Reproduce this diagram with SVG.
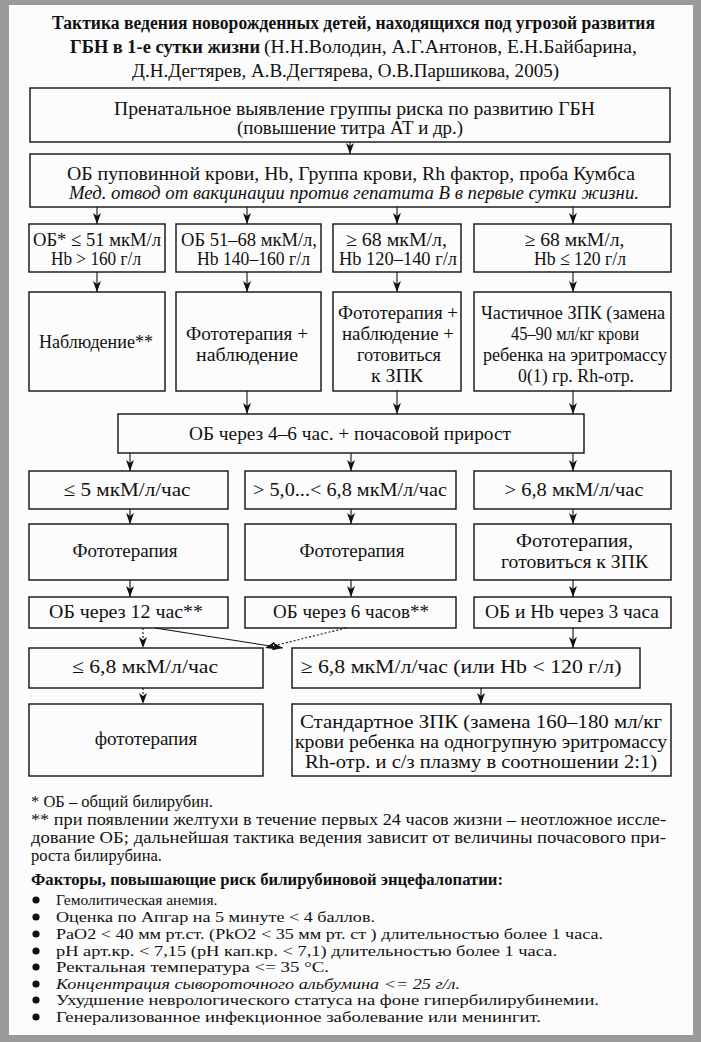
<svg xmlns="http://www.w3.org/2000/svg" width="701" height="1042" viewBox="0 0 701 1042">
<defs>
<marker id="ah" markerUnits="userSpaceOnUse" markerWidth="11" markerHeight="8" refX="11" refY="4" orient="auto">
<path d="M0,0 L11,4 L0,8 L3,4 z" fill="#111"/>
</marker>
<style>
.bx{fill:none;stroke:#111;stroke-width:1.4}
.t{font-family:"Liberation Serif","Times New Roman",serif;font-size:19px;fill:#111;text-anchor:middle}
.tb{font-family:"Liberation Serif","Times New Roman",serif;font-size:18px;font-weight:bold;fill:#111}
.f{font-family:"Liberation Serif","Times New Roman",serif;font-size:16.5px;fill:#111}
.g{font-family:"Liberation Serif","Times New Roman",serif;font-size:15.5px;fill:#111}
.i{font-style:italic}
.c{fill:none;stroke:#111;stroke-width:1.1;marker-end:url(#ah)}
.d{stroke-dasharray:2,2}
</style>
</defs>
<rect x="0" y="0" width="701" height="1042" fill="#9a9a9a"/>
<rect x="9" y="5" width="684" height="1030" fill="#fcfcfc"/>

<g id="title">
<text class="tb" x="353.5" y="29" text-anchor="middle" textLength="603" lengthAdjust="spacingAndGlyphs">Тактика ведения новорожденных детей, находящихся под угрозой развития</text>
<text class="tb" x="70" y="53" textLength="190" lengthAdjust="spacingAndGlyphs">ГБН в 1-е сутки жизни</text>
<text class="t" x="264" y="53" style="text-anchor:start" textLength="373" lengthAdjust="spacingAndGlyphs">(Н.Н.Володин, А.Г.Антонов, Е.Н.Байбарина,</text>
<text class="t" x="345.5" y="77" textLength="427" lengthAdjust="spacingAndGlyphs">Д.Н.Дегтярев, А.В.Дегтярева, О.В.Паршикова, 2005)</text>
</g>

<g id="n1">
<rect class="bx" x="30" y="88" width="640" height="54"/>
<text class="t" x="354.5" y="115" textLength="481" lengthAdjust="spacingAndGlyphs">Пренатальное выявление группы риска по развитию ГБН</text>
<text class="t" x="350" y="134" textLength="226" lengthAdjust="spacingAndGlyphs">(повышение титра АТ и др.)</text>
</g>

<g id="n2">
<rect class="bx" x="30" y="154" width="640" height="53"/>
<text class="t" x="351" y="180" textLength="568" lengthAdjust="spacingAndGlyphs">ОБ пуповинной крови, Hb, Группа крови, Rh фактор, проба Кумбса</text>
<text class="t i" x="354" y="199" textLength="570" lengthAdjust="spacingAndGlyphs">Мед. отвод от вакцинации против гепатита В в первые сутки жизни.</text>
</g>

<g id="n3a">
<rect class="bx" x="29" y="224" width="136" height="48"/>
<text class="t" x="97" y="246" textLength="128" lengthAdjust="spacingAndGlyphs">ОБ* ≤ 51 мкМ/л</text>
<text class="t" x="96" y="265" textLength="90" lengthAdjust="spacingAndGlyphs">Hb &gt; 160 г/л</text>
</g>
<g id="n3b">
<rect class="bx" x="176" y="224" width="145" height="48"/>
<text class="t" x="249" y="246" textLength="136" lengthAdjust="spacingAndGlyphs">ОБ 51–68 мкМ/л,</text>
<text class="t" x="253.5" y="265" textLength="113" lengthAdjust="spacingAndGlyphs">Hb 140–160 г/л</text>
</g>
<g id="n3c">
<rect class="bx" x="333" y="224" width="128" height="48"/>
<text class="t" x="396.5" y="246" textLength="101" lengthAdjust="spacingAndGlyphs">≥ 68 мкМ/л,</text>
<text class="t" x="398" y="265" textLength="118" lengthAdjust="spacingAndGlyphs">Hb 120–140 г/л</text>
</g>
<g id="n3d">
<rect class="bx" x="474" y="224" width="197" height="48"/>
<text class="t" x="574.5" y="246" textLength="100" lengthAdjust="spacingAndGlyphs">≥ 68 мкМ/л,</text>
<text class="t" x="580" y="265" textLength="92" lengthAdjust="spacingAndGlyphs">Hb ≤ 120 г/л</text>
</g>

<g id="n4a">
<rect class="bx" x="29" y="292" width="136" height="99"/>
<text class="t" x="96" y="348" textLength="114" lengthAdjust="spacingAndGlyphs">Наблюдение**</text>
</g>
<g id="n4b">
<rect class="bx" x="176" y="292" width="145" height="99"/>
<text class="t" x="247" y="340" textLength="122" lengthAdjust="spacingAndGlyphs">Фототерапия +</text>
<text class="t" x="247" y="361" textLength="102" lengthAdjust="spacingAndGlyphs">наблюдение</text>
</g>
<g id="n4c">
<rect class="bx" x="333" y="292" width="128" height="99"/>
<text class="t" x="398" y="319" textLength="120" lengthAdjust="spacingAndGlyphs">Фототерапия +</text>
<text class="t" x="398" y="340" textLength="112" lengthAdjust="spacingAndGlyphs">наблюдение +</text>
<text class="t" x="399" y="361" textLength="84" lengthAdjust="spacingAndGlyphs">готовиться</text>
<text class="t" x="397" y="382" textLength="52" lengthAdjust="spacingAndGlyphs">к ЗПК</text>
</g>
<g id="n4d">
<rect class="bx" x="474" y="292" width="197" height="99"/>
<text class="t" x="573" y="319" textLength="184" lengthAdjust="spacingAndGlyphs">Частичное ЗПК (замена</text>
<text class="t" x="575" y="340" textLength="128" lengthAdjust="spacingAndGlyphs">45–90 мл/кг крови</text>
<text class="t" x="575" y="361" textLength="184" lengthAdjust="spacingAndGlyphs">ребенка на эритромассу</text>
<text class="t" x="576" y="382" textLength="116" lengthAdjust="spacingAndGlyphs">0(1) гр. Rh-отр.</text>
</g>

<g id="n5">
<rect class="bx" x="118" y="414" width="466" height="39"/>
<text class="t" x="350" y="440" textLength="322" lengthAdjust="spacingAndGlyphs">ОБ через 4–6 час. + почасовой прирост</text>
</g>

<g id="n6a">
<rect class="bx" x="29" y="471" width="199" height="38"/>
<text class="t" x="127" y="496" textLength="127" lengthAdjust="spacingAndGlyphs">≤ 5 мкМ/л/час</text>
</g>
<g id="n6b">
<rect class="bx" x="245" y="471" width="211" height="38"/>
<text class="t" x="350" y="496" textLength="194" lengthAdjust="spacingAndGlyphs">&gt; 5,0...&lt; 6,8 мкМ/л/час</text>
</g>
<g id="n6c">
<rect class="bx" x="474" y="471" width="197" height="38"/>
<text class="t" x="574" y="496" textLength="139" lengthAdjust="spacingAndGlyphs">&gt; 6,8 мкМ/л/час</text>
</g>

<g id="n7a">
<rect class="bx" x="29" y="524" width="199" height="56"/>
<text class="t" x="125" y="557">Фототерапия</text>
</g>
<g id="n7b">
<rect class="bx" x="245" y="524" width="211" height="56"/>
<text class="t" x="352" y="557">Фототерапия</text>
</g>
<g id="n7c">
<rect class="bx" x="474" y="524" width="197" height="56"/>
<text class="t" x="574.5" y="547" textLength="117" lengthAdjust="spacingAndGlyphs">Фототерапия,</text>
<text class="t" x="574.5" y="568" textLength="147" lengthAdjust="spacingAndGlyphs">готовиться к ЗПК</text>
</g>

<g id="n8a">
<rect class="bx" x="29" y="597" width="199" height="31"/>
<text class="t" x="126" y="618" textLength="154" lengthAdjust="spacingAndGlyphs">ОБ через 12 час**</text>
</g>
<g id="n8b">
<rect class="bx" x="245" y="597" width="211" height="31"/>
<text class="t" x="351" y="618" textLength="156" lengthAdjust="spacingAndGlyphs">ОБ через 6 часов**</text>
</g>
<g id="n8c">
<rect class="bx" x="474" y="597" width="197" height="31"/>
<text class="t" x="572" y="618" textLength="174" lengthAdjust="spacingAndGlyphs">ОБ и Hb через 3 часа</text>
</g>

<g id="n9a">
<rect class="bx" x="29" y="648" width="234" height="40"/>
<text class="t" x="145" y="673" textLength="146" lengthAdjust="spacingAndGlyphs">≤ 6,8 мкМ/л/час</text>
</g>
<g id="n9b">
<rect class="bx" x="292" y="648" width="348" height="40"/>
<text class="t" x="461" y="673" textLength="321" lengthAdjust="spacingAndGlyphs">≥ 6,8 мкМ/л/час (или Hb &lt; 120 г/л)</text>
</g>

<g id="n10a">
<rect class="bx" x="29" y="704" width="234" height="72"/>
<text class="t" x="146" y="745">фототерапия</text>
</g>
<g id="n10b">
<rect class="bx" x="292" y="704" width="379" height="72"/>
<text class="t" x="481" y="728" textLength="362" lengthAdjust="spacingAndGlyphs">Стандартное ЗПК (замена 160–180 мл/кг</text>
<text class="t" x="481" y="748" textLength="372" lengthAdjust="spacingAndGlyphs">крови ребенка на одногрупную эритромассу</text>
<text class="t" x="481" y="768" textLength="352" lengthAdjust="spacingAndGlyphs">Rh-отр. и с/з плазму в соотношении 2:1)</text>
</g>

<g id="connectors">
<line class="c" x1="350" y1="142" x2="350" y2="154"/>
<line class="c" x1="97" y1="207" x2="97" y2="224"/>
<line class="c" x1="247" y1="207" x2="247" y2="224"/>
<line class="c" x1="397" y1="207" x2="397" y2="224"/>
<line class="c" x1="573" y1="207" x2="573" y2="224"/>
<line class="c" x1="97" y1="272" x2="97" y2="292"/>
<line class="c" x1="247" y1="272" x2="247" y2="292"/>
<line class="c" x1="397" y1="272" x2="397" y2="292"/>
<line class="c" x1="573" y1="272" x2="573" y2="292"/>
<line class="c" x1="247" y1="391" x2="247" y2="414"/>
<line class="c" x1="397" y1="391" x2="397" y2="414"/>
<line class="c" x1="573" y1="391" x2="573" y2="414"/>
<line class="c" x1="130" y1="453" x2="130" y2="471"/>
<line class="c" x1="351" y1="453" x2="351" y2="471"/>
<line class="c" x1="573" y1="453" x2="573" y2="471"/>
<line class="c" x1="130" y1="509" x2="130" y2="524"/>
<line class="c" x1="351" y1="509" x2="351" y2="524"/>
<line class="c" x1="573" y1="509" x2="573" y2="524"/>
<line class="c" x1="130" y1="580" x2="130" y2="597"/>
<line class="c" x1="351" y1="580" x2="351" y2="597"/>
<line class="c" x1="573" y1="580" x2="573" y2="597"/>
<line class="c d" x1="143" y1="628" x2="143" y2="648"/>
<line class="c" x1="573" y1="628" x2="573" y2="648"/>
<line class="c" x1="155" y1="628" x2="283" y2="648"/>
<line class="c d" x1="346" y1="628" x2="265" y2="648"/>
<line class="c d" x1="143" y1="688" x2="143" y2="704"/>
<line class="c" x1="481" y1="688" x2="481" y2="704"/>
</g>

<g id="notes">
<text class="f" x="31" y="807">* ОБ – общий билирубин.</text>
<text class="f" x="31" y="825" textLength="635" lengthAdjust="spacingAndGlyphs">** при появлении желтухи в течение первых 24 часов жизни – неотложное иссле-</text>
<text class="f" x="31" y="843" textLength="635" lengthAdjust="spacingAndGlyphs">дование ОБ; дальнейшая тактика ведения зависит от величины почасового при-</text>
<text class="f" x="31" y="861">роста билирубина.</text>
<text class="f" x="31" y="885" font-weight="bold" textLength="472" lengthAdjust="spacingAndGlyphs">Факторы, повышающие риск билирубиновой энцефалопатии:</text>
</g>
<g id="factors" fill="#111">
<circle cx="36" cy="900" r="3.6"/>
<circle cx="36" cy="917" r="3.6"/>
<circle cx="36" cy="934" r="3.6"/>
<circle cx="36" cy="951" r="3.6"/>
<circle cx="36" cy="967" r="3.6"/>
<circle cx="36" cy="984" r="3.6"/>
<circle cx="36" cy="1000" r="3.6"/>
<circle cx="36" cy="1017" r="3.6"/>
<text class="g" x="56" y="905">Гемолитическая анемия.</text>
<text class="g" x="56" y="922" textLength="319" lengthAdjust="spacingAndGlyphs">Оценка по Апгар на 5 минуте &lt; 4 баллов.</text>
<text class="g" x="56" y="939" textLength="547" lengthAdjust="spacingAndGlyphs">PaO2 &lt; 40 мм рт.ст. (PkO2 &lt; 35 мм рт. ст ) длительностью более 1 часа.</text>
<text class="g" x="56" y="956" textLength="501" lengthAdjust="spacingAndGlyphs">pH арт.кр. &lt; 7,15 (pH кап.кр. &lt; 7,1) длительностью более 1 часа.</text>
<text class="g" x="56" y="972" textLength="273" lengthAdjust="spacingAndGlyphs">Ректальная температура &lt;= 35 °C.</text>
<text class="g i" x="56" y="989" textLength="404" lengthAdjust="spacingAndGlyphs">Концентрация сывороточного альбумина &lt;= 25 г/л.</text>
<text class="g" x="56" y="1005" textLength="543" lengthAdjust="spacingAndGlyphs">Ухудшение неврологического статуса на фоне гипербилирубинемии.</text>
<text class="g" x="56" y="1022" textLength="485" lengthAdjust="spacingAndGlyphs">Генерализованное инфекционное заболевание или менингит.</text>
</g>
</svg>
